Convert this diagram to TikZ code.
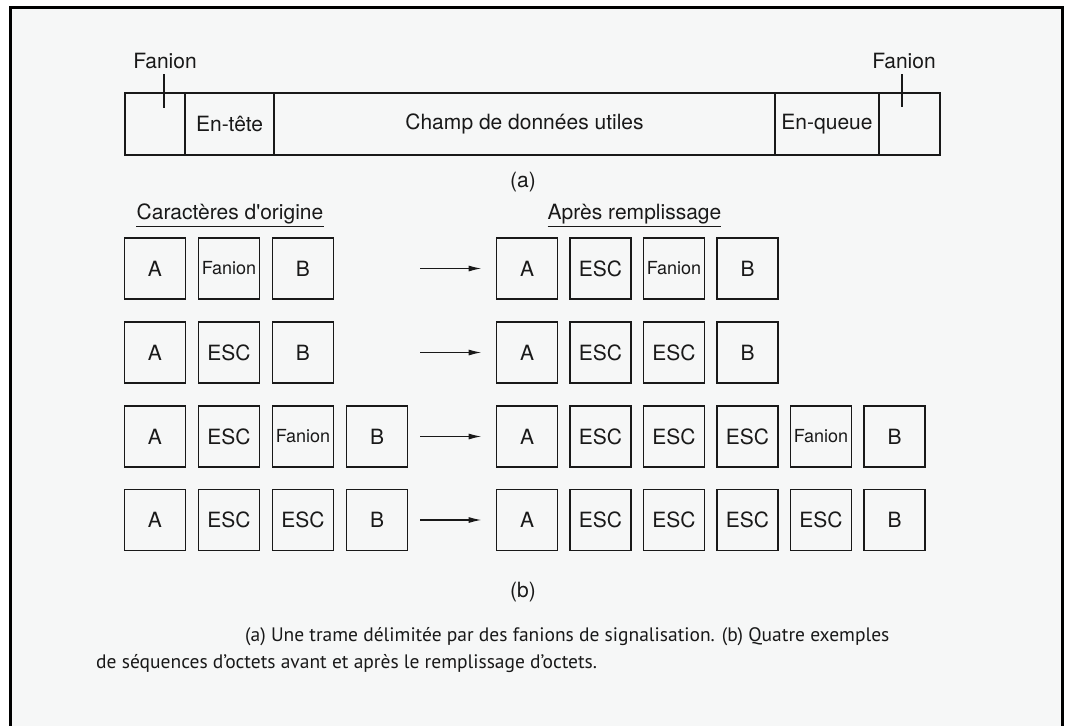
\documentclass[tikz,border=0pt]{standalone}
\usepackage{fontspec}
\setmainfont{TeX Gyre Heros}
\newfontfamily\capfont{PT Sans}
\usetikzlibrary{arrows.meta}
\definecolor{paper}{RGB}{246,247,247}
\definecolor{ink}{RGB}{25,25,25}
\newcommand{\fanlbl}{{\fontsize{18}{21}\selectfont Fanion}}
\begin{document}
\begin{tikzpicture}[x=1pt,y=-1pt,
  every node/.style={text=ink},
  cell/.style={draw=ink, line width=1.8pt, minimum width=61pt, minimum height=61pt, inner sep=0pt, font=\fontsize{21}{25}\selectfont},
  seg/.style={draw=ink, line width=1.8pt, minimum height=62pt, inner sep=0pt, font=\fontsize{21}{25}\selectfont},
  lbl/.style={inner sep=0pt, font=\fontsize{21}{25}\selectfont},
  capt/.style={inner sep=0pt, font=\capfont\fontsize{19.5}{23}\selectfont},
  tick/.style={draw=ink, line width=1.3pt},
  uline/.style={draw=ink, line width=1.3pt},
  arr/.style={draw=ink, line width=1.3pt, -{Latex[length=13pt,width=6pt]}, shorten >=14pt}
]
\useasboundingbox (0,0) rectangle (1069,726);
\fill[paper] (10,7) rectangle (1063,726);
\draw[line width=3pt, draw=black] (10.5,726) -- (10.5,7.5) -- (1062.5,7.5) -- (1062.5,726);

% (a) frame
\node[seg, minimum width=60pt]  (fa) at (155,124) {};
\node[seg, minimum width=89pt]  (hd) at (229.5,124) {En-tête};
\node[seg, minimum width=501pt] (dt) at (524.5,124) {Champ de données utiles};
\node[seg, minimum width=104pt] (tr) at (827,124) {En-queue};
\node[seg, minimum width=61pt]  (fb) at (909.5,124) {};

\node[lbl, anchor=base] (fl1) at (165,68) {Fanion};
\node[lbl, anchor=base] (fl2) at (904,68) {Fanion};
\coordinate (t1a) at (164,74); \coordinate (t1b) at (164,108);
\coordinate (t2a) at (902,74); \coordinate (t2b) at (902,107);
\draw[tick] (t1a) -- (t1b);
\draw[tick] (t2a) -- (t2b);

\node[lbl] (la) at (523,182) {(a)};

% (b) titles
\node[lbl, inner ysep=3pt, anchor=base] (co) at (230,219) {Caractères d\textquotesingle origine};
\draw[uline] (co.south west) -- (co.south east);
\node[lbl, inner ysep=3pt, anchor=base] (ar) at (634.5,219) {Après remplissage};
\draw[uline] (ar.south west) -- (ar.south east);

% left columns
\foreach \t [count=\i] in {A,\fanlbl,B}
  \node[cell] (l1-\i) at ({155+74*(\i-1)},268.5) {\t};
\foreach \t [count=\i] in {A,ESC,B}
  \node[cell] (l2-\i) at ({155+74*(\i-1)},352.5) {\t};
\foreach \t [count=\i] in {A,ESC,\fanlbl,B}
  \node[cell] (l3-\i) at ({155+74*(\i-1)},436.5) {\t};
\foreach \t [count=\i] in {A,ESC,ESC,B}
  \node[cell] (l4-\i) at ({155+74*(\i-1)},520) {\t};

% right columns
\foreach \t [count=\i] in {A,ESC,\fanlbl,B}
  \node[cell] (r1-\i) at ({527+73.5*(\i-1)},268.5) {\t};
\foreach \t [count=\i] in {A,ESC,ESC,B}
  \node[cell] (r2-\i) at ({527+73.5*(\i-1)},352.5) {\t};
\foreach \t [count=\i] in {A,ESC,ESC,ESC,\fanlbl,B}
  \node[cell] (r3-\i) at ({527+73.5*(\i-1)},436.5) {\t};
\foreach \t [count=\i] in {A,ESC,ESC,ESC,ESC,B}
  \node[cell] (r4-\i) at ({527+73.5*(\i-1)},520) {\t};

% arrows
\coordinate (a1) at (420,268.5);
\coordinate (a2) at (420,352.5);
\coordinate (a3) at (420,436.5);
\coordinate (a4) at (420,520);
\draw[arr] (a1) -- (r1-1.west);
\draw[arr] (a2) -- (r2-1.west);
\draw[arr] (a3) -- (r3-1.west);
\draw[arr] (a4) -- (r4-1.west);

\node[lbl] (lb) at (523,592) {(b)};

% caption
\node[capt, anchor=base west] (c1) at (245,641) {(a) Une trame délimitée par des fanions de signalisation. (b) Quatre exemples};
\node[capt, anchor=base west] (c2) at (96,668) {de séquences d’octets avant et après le remplissage d’octets.};
\end{tikzpicture}
\end{document}
